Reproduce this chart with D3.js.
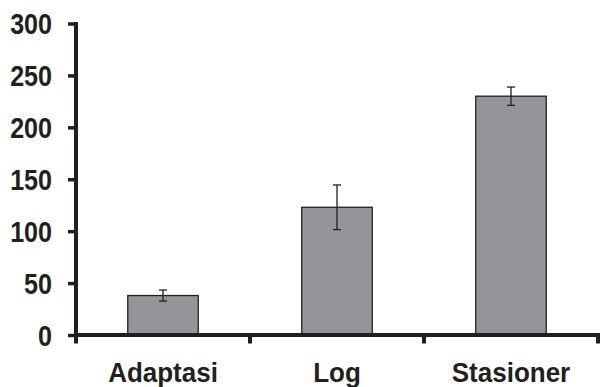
<!DOCTYPE html>
<html>
<head>
<meta charset="utf-8">
<script src="https://cdn.jsdelivr.net/npm/d3@7"></script>
<style>
  body { margin: 0; background: #fff; }
  text { font-family: "Liberation Sans", Arial, sans-serif; font-weight: bold; fill: #231f20; }
</style>
</head>
<body>
<svg id="chart" width="603" height="387"></svg>
<script>
// Data
let categories = ["Adaptasi", "Log", "Stasioner"];
let values = [38, 123, 230];
let errors = [5.3, 21.5, 8.8];
let yTicks = [0, 50, 100, 150, 200, 250, 300];

let svg = d3.select("#chart");
let ink = "#231f20";

let x0 = 76, x1 = 598, yBottom = 335, yTop = 23.5;

let xScale = d3.scaleBand().domain(categories).range([x0, x1]).padding(0);
let yScale = d3.scaleLinear().domain([0, 300]).range([yBottom, yTop]);
let barWidth = xScale.bandwidth() * 0.405;

let rows = categories.map((c, i) => ({ key: c, value: values[i], err: errors[i] }));

// bars
svg.selectAll(".bar")
    .data(rows)
    .enter().append("rect")
    .attr("class", "bar")
    .attr("x", d => xScale(d.key) + (xScale.bandwidth() - barWidth) / 2)
    .attr("y", d => yScale(d.value))
    .attr("width", barWidth)
    .attr("height", d => yBottom - yScale(d.value))
    .attr("fill", "#939598")
    .attr("stroke", ink)
    .attr("stroke-width", 1.3);

// error bars
let eb = svg.selectAll(".err")
    .data(rows)
    .enter().append("g")
    .attr("class", "err")
    .attr("stroke", ink)
    .attr("stroke-width", 1.3);
let cx = d => xScale(d.key) + xScale.bandwidth() / 2;
eb.append("line")
    .attr("x1", cx).attr("x2", cx)
    .attr("y1", d => yScale(d.value + d.err))
    .attr("y2", d => yScale(d.value - d.err));
[1, -1].forEach(s => {
    eb.append("line")
        .attr("x1", d => cx(d) - 4).attr("x2", d => cx(d) + 4)
        .attr("y1", d => yScale(d.value + s * d.err))
        .attr("y2", d => yScale(d.value + s * d.err));
});

// y axis
let sx = 0.93, sy = 1.06; // the original type is a bit narrower and taller
let yAxis = svg.append("g")
    .attr("transform", "translate(" + x0 + ",0)")
    .call(d3.axisLeft(yScale).tickValues(yTicks).tickSize(8).tickPadding(16));
yAxis.select(".domain").attr("d", "M0," + (yTop - 1.5) + "V" + (yBottom + 8))
    .attr("stroke", ink).attr("stroke-width", 4);
yAxis.selectAll(".tick line").attr("stroke", ink).attr("stroke-width", 3.5);
yAxis.selectAll(".tick text")
    .attr("fill", ink)
    .style("font-size", "27px")
    .style("font-family", "'Liberation Sans', Arial, sans-serif")
    .style("font-weight", "bold")
    .attr("x", -24 / sx)
    .attr("transform", "scale(" + sx + "," + sy + ")")
    .attr("dy", "0.36em");

// x axis with boundary ticks
let xAxis = svg.append("g").attr("transform", "translate(0," + yBottom + ")");
xAxis.append("line")
    .attr("x1", x0).attr("x2", x1 + 2)
    .attr("stroke", ink).attr("stroke-width", 4);
let bounds = categories.map(c => xScale(c)).concat([x1]);
xAxis.selectAll(".xtick")
    .data(bounds)
    .enter().append("line")
    .attr("class", "xtick")
    .attr("x1", d => d).attr("x2", d => d)
    .attr("y1", 0).attr("y2", 8.5)
    .attr("stroke", ink).attr("stroke-width", 4);
xAxis.selectAll(".xlabel")
    .data(categories)
    .enter().append("text")
    .attr("class", "xlabel")
    .attr("transform", d => "translate(" + (xScale(d) + xScale.bandwidth() / 2) + ",47) scale(1,1.07)")
    .attr("text-anchor", "middle")
    .style("font-size", "26px")
    .text(d => d);
</script>
</body>
</html>
